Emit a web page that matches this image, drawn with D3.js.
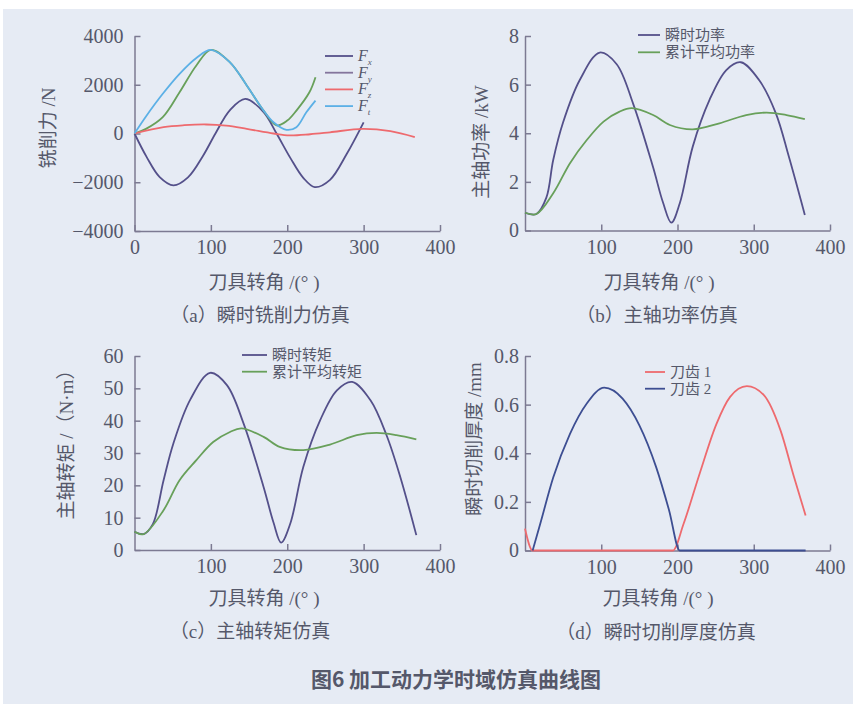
<!DOCTYPE html>
<html>
<head>
<meta charset="utf-8">
<script src="https://cdn.jsdelivr.net/npm/d3@7"></script>
<style>
  body { margin: 0; background: #fff; }
  svg text { fill: #55586a; }
</style>
</head>
<body>
<script>
// ---- data ----

// (a) cutting force, N
var fxAngle = [0, 16, 33, 51, 70, 90, 106, 125, 145, 169, 186, 204, 221, 236, 256, 278, 300];
var fxValue = [0, -970, -1790, -2130, -1800, -900, 0, 960, 1420, 880, 0, -1000, -1820, -2200, -1900, -830, 460];
var fyAngle = [0, 15, 37, 59, 81, 100, 125, 147, 169, 186, 200, 212, 229, 237];
var fyValue = [0, 190, 670, 1690, 2790, 3430, 2920, 1970, 940, 330, 530, 940, 1690, 2310];
var fzAngle = [0, 38, 65, 94, 120, 147, 182, 203, 230, 256, 299, 335, 367];
var fzValue = [0, 260, 340, 370, 320, 190, 0, -80, -30, 50, 190, 95, -150];
var ftAngle = [0, 15, 37, 59, 81, 100, 125, 147, 169, 182, 199, 212, 225, 237];
var ftValue = [0, 700, 1630, 2450, 3100, 3430, 2920, 1970, 940, 460, 150, 260, 870, 1350];

// (b) spindle power, kW
var powAngle = [0, 15, 28, 37, 50, 72, 98, 120, 142, 168, 181, 192, 203, 220, 242, 264, 283, 307, 329, 346, 367];
var powValue = [0.73, 0.68, 1.35, 2.9, 4.45, 6.2, 7.32, 6.85, 5.2, 2.6, 1.15, 0.32, 1.12, 3.45, 5.37, 6.6, 6.92, 6.19, 4.82, 3.04, 0.64];
var powAvgAngle = [0, 15, 37, 59, 81, 103, 124, 140, 168, 190, 220, 255, 290, 317, 343, 367];
var powAvgValue = [0.73, 0.68, 1.53, 2.77, 3.72, 4.48, 4.89, 5.03, 4.75, 4.34, 4.16, 4.41, 4.75, 4.85, 4.75, 4.58];

// (c) spindle torque, N·m
var torAngle = [0, 12, 24, 38, 51, 73, 99, 121, 143, 169, 182, 192, 204, 221, 243, 265, 285, 309, 330, 348, 369];
var torValue = [5.65, 4.94, 8, 21.5, 33, 46.5, 54.8, 51, 39, 19.5, 8.5, 2.3, 8.2, 25.7, 40.1, 49.4, 52, 46.3, 35.5, 22.6, 4.6];
var torAvgAngle = [0, 12, 38, 59, 81, 103, 125, 140, 169, 190, 221, 256, 291, 317, 343, 369];
var torAvgValue = [5.65, 4.94, 12.3, 21.6, 27.8, 33.4, 36.5, 37.6, 35, 31.9, 30.9, 32.6, 35.5, 36.2, 35.5, 34.2];

// (d) instantaneous chip thickness, mm
var tooth1Angle = [0, 10, 194, 208, 229, 251, 269, 291, 313, 335, 353, 368];
var tooth1Value = [0.09, 0, 0, 0.11, 0.316, 0.52, 0.632, 0.676, 0.64, 0.495, 0.30, 0.144];
var tooth2Angle = [10, 20, 37, 59, 81, 104, 128, 150, 172, 189, 203, 368];
var tooth2Value = [0, 0.11, 0.30, 0.48, 0.605, 0.67, 0.625, 0.515, 0.343, 0.165, 0, 0];

var angleTicks = [0, 100, 200, 300, 400];

var W = 862, H = 708;
var latin = "'Liberation Serif', 'Noto Sans CJK SC', serif";
var cjk = "'Liberation Serif', 'Noto Sans CJK SC', sans-serif";

var svg = d3.select('body').append('svg')
    .attr('width', W)
    .attr('height', H);

// scanned page background
svg.append('rect')
    .attr('x', 3).attr('y', 9)
    .attr('width', 850).attr('height', 695)
    .attr('fill', '#e6ebf4');

function zip(a, v) {
    return a.map(function(d, i) { return [d, v[i]]; });
}

function drawPanel(p) {
    var g = svg.append('g');
    var x = d3.scaleLinear().domain([0, 400]).range([p.left, p.right]);
    var y = d3.scaleLinear().domain(p.yDomain).range([p.bottom, p.top]);

    var xAxis = d3.axisBottom(x)
        .tickValues(p.xTicks)
        .tickSizeInner(-6).tickSizeOuter(0)
        .tickPadding(9);
    var yAxis = d3.axisLeft(y)
        .tickValues(p.yTicks)
        .tickFormat(p.yFormat)
        .tickSizeInner(-6).tickSizeOuter(0)
        .tickPadding(p.yPad);

    var gx = g.append('g').attr('transform', 'translate(0,' + p.bottom + ')').call(xAxis);
    var gy = g.append('g').attr('transform', 'translate(' + p.left + ',0)').call(yAxis);
    [gx, gy].forEach(function(a) {
        a.select('.domain').attr('stroke', '#7c7a92').attr('stroke-width', 1.5);
        a.selectAll('.tick line').attr('stroke', '#7c7a92').attr('stroke-width', 1.5);
        a.selectAll('.tick text')
            .style('font-family', latin)
            .style('font-size', '20px')
            .attr('fill', '#55586a');
    });

    var line = d3.line()
        .x(function(d) { return x(d[0]); })
        .y(function(d) { return y(d[1]); })
        .curve(p.curve || d3.curveCatmullRom.alpha(0.5));

    p.series.forEach(function(s) {
        g.append('path')
            .datum(zip(s.angle, s.value))
            .attr('fill', 'none')
            .attr('stroke', s.color)
            .attr('stroke-width', 1.8)
            .attr('d', line);
    });

    // legend
    p.series.forEach(function(s, i) {
        var ly = p.legendY + i * p.legendStep;
        g.append('line')
            .attr('x1', p.legendX).attr('x2', p.legendX + p.legendLen)
            .attr('y1', ly).attr('y2', ly)
            .attr('stroke', s.legendColor || s.color)
            .attr('stroke-width', 1.8);
        var t = g.append('text')
            .attr('x', p.legendX + p.legendLen + 5)
            .attr('y', ly + 5)
            .style('font-family', cjk)
            .style('font-size', p.legendSize + 'px');
        if (s.sub) {
            t.style('font-style', 'italic');
            t.append('tspan').text('F');
            t.append('tspan').attr('dy', 4).style('font-size', '9px').text(s.sub);
        } else {
            t.text(s.name);
        }
    });

    // axis titles
    g.append('text')
        .attr('x', p.xTitle[0]).attr('y', p.xTitle[1])
        .attr('text-anchor', 'middle')
        .style('font-family', cjk).style('font-size', '19px')
        .text('刀具转角 /(° )');
    g.append('text')
        .attr('transform', 'translate(' + p.yTitle[0] + ',' + p.yTitle[1] + ') rotate(-90)')
        .attr('text-anchor', 'middle')
        .attr('dy', '0.35em')
        .style('font-family', cjk).style('font-size', '19px')
        .text(p.yLabel);
    g.append('text')
        .attr('x', p.sub[0]).attr('y', p.sub[1])
        .attr('text-anchor', 'middle')
        .style('font-family', cjk).style('font-size', '19px')
        .text(p.subLabel);
}

var dark = '#54508a', green = '#68a05a', red = '#ee6a6e', sky = '#5cb0e6';

drawPanel({
    left: 134.5, right: 440, top: 36, bottom: 231,
    yDomain: [-4000, 4000], yTicks: [-4000, -2000, 0, 2000, 4000],
    yFormat: d3.format('d'), yPad: 11,
    xTicks: angleTicks,
    series: [
        {angle: fxAngle, value: fxValue, color: dark, sub: 'x'},
        {angle: fyAngle, value: fyValue, color: green, legendColor: '#84759c', sub: 'y'},
        {angle: fzAngle, value: fzValue, color: red, sub: 'z'},
        {angle: ftAngle, value: ftValue, color: sky, sub: 't'}
    ],
    legendX: 325, legendY: 56, legendStep: 16.7, legendLen: 28, legendSize: 16,
    xTitle: [264, 289], yTitle: [48, 128], yLabel: '铣削力 /N',
    sub: [260, 322], subLabel: '（a）瞬时铣削力仿真'
});

drawPanel({
    left: 525, right: 830, top: 36, bottom: 230.5,
    yDomain: [0, 8], yTicks: [0, 2, 4, 6, 8],
    yFormat: d3.format('d'), yPad: 6,
    xTicks: angleTicks.slice(1),
    series: [
        {angle: powAngle, value: powValue, color: dark, name: '瞬时功率'},
        {angle: powAvgAngle, value: powAvgValue, color: green, name: '累计平均功率'}
    ],
    legendX: 638, legendY: 35, legendStep: 17.3, legendLen: 22, legendSize: 15,
    xTitle: [659, 289], yTitle: [481, 142], yLabel: '主轴功率 /kW',
    sub: [657, 322], subLabel: '（b）主轴功率仿真'
});

drawPanel({
    left: 134.5, right: 440, top: 356, bottom: 550,
    yDomain: [0, 60], yTicks: [0, 10, 20, 30, 40, 50, 60],
    yFormat: d3.format('d'), yPad: 11,
    xTicks: angleTicks.slice(1),
    series: [
        {angle: torAngle, value: torValue, color: dark, name: '瞬时转矩'},
        {angle: torAvgAngle, value: torAvgValue, color: green, name: '累计平均转矩'}
    ],
    legendX: 242, legendY: 355, legendStep: 16.7, legendLen: 25, legendSize: 15,
    xTitle: [264, 605], yTitle: [66, 440], yLabel: '主轴转矩 /（N·m）',
    sub: [250, 638], subLabel: '（c）主轴转矩仿真'
});

drawPanel({
    left: 525, right: 830, top: 356, bottom: 550.5,
    yDomain: [0, 0.8], yTicks: [0, 0.2, 0.4, 0.6, 0.8],
    yFormat: function(d) { return d === 0 ? '0' : d3.format('.1f')(d); }, yPad: 6,
    xTicks: angleTicks.slice(1),
    curve: d3.curveMonotoneX,
    series: [
        {angle: tooth1Angle, value: tooth1Value, color: red, name: '刀齿 1'},
        {angle: tooth2Angle, value: tooth2Value, color: '#3d4e92', name: '刀齿 2'}
    ],
    legendX: 645, legendY: 372, legendStep: 16.7, legendLen: 20, legendSize: 15,
    xTitle: [658, 605], yTitle: [474, 439], yLabel: '瞬时切削厚度 /mm',
    sub: [656, 639], subLabel: '（d）瞬时切削厚度仿真'
});

svg.append('text')
    .attr('x', 456).attr('y', 687)
    .attr('text-anchor', 'middle')
    .style('font-family', "'Noto Sans CJK SC', sans-serif")
    .style('font-size', '21px')
    .style('font-weight', 'bold')
    .attr('fill', '#3a3a42')
    .text('图6  加工动力学时域仿真曲线图');
</script>
</body>
</html>
